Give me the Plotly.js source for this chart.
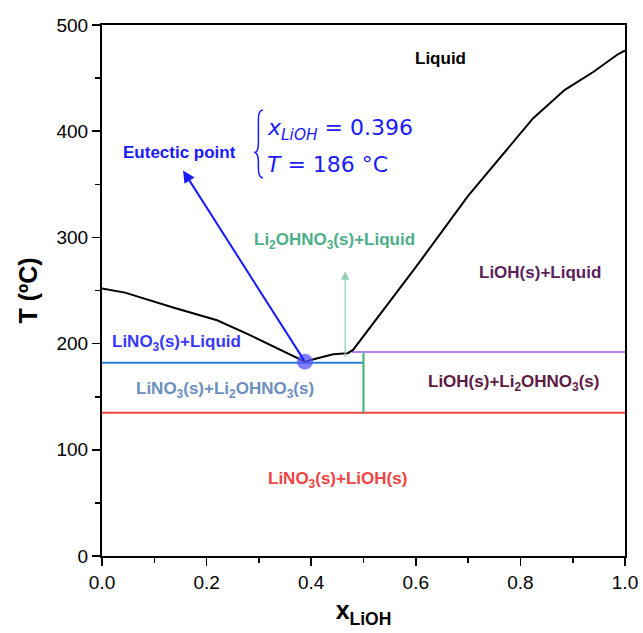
<!DOCTYPE html>
<html>
<head>
<meta charset="utf-8">
<script src="https://cdn.plot.ly/plotly-3.0.1.min.js"></script>
<style>html,body{margin:0;padding:0;background:#fff;}#chart{width:643px;height:633px;}</style>
</head>
<body>
<div id="chart"></div>
<script>
// Liquidus curve
const liqX = [0, 0.044, 0.136, 0.22, 0.283, 0.388, 0.403, 0.442, 0.47, 0.48, 0.6, 0.7, 0.824, 0.885, 0.94, 0.985, 1.0];
const liqT = [252, 248, 234, 222, 208, 183, 185, 190, 191, 194, 272, 339, 412, 439, 456, 472, 476];
// Phase boundary lines
const blueX = [0, 0.5];      const blueT = [182, 182];
const redX = [0, 1];         const redT = [135, 135];
const greenX = [0.5, 0.5];   const greenT = [135, 192];
const purpleX = [0.478, 1];  const purpleT = [192, 192];
// Eutectic point
const eutX = [0.388];        const eutT = [183];
// Region labels
const labelText = ["Liquid", "Li<sub>2</sub>OHNO<sub>3</sub>(s)+Liquid", "LiOH(s)+Liquid", "LiNO<sub>3</sub>(s)+Liquid",
  "LiNO<sub>3</sub>(s)+Li<sub>2</sub>OHNO<sub>3</sub>(s)", "LiOH(s)+Li<sub>2</sub>OHNO<sub>3</sub>(s)", "LiNO<sub>3</sub>(s)+LiOH(s)", "Eutectic point"];
const labelX = [0.648, 0.444, 0.837, 0.143, 0.235, 0.786, 0.451, 0.149];
const labelT = [468, 297, 267, 201, 156, 163, 72, 380];
const labelColor = ["#000000", "#4dae8a", "#5b1f5e", "#3838ff", "#6c8fc0", "#5d1a45", "#ef4444", "#1a1aff"];

const F = "Liberation Sans, Arial, sans-serif";

const traces = [
  {x: blueX, y: blueT, mode: "lines", line: {color: "#2a7de1", width: 2}, hoverinfo: "skip"},
  {x: redX, y: redT, mode: "lines", line: {color: "#ee4444", width: 2}, hoverinfo: "skip"},
  {x: greenX, y: greenT, mode: "lines", line: {color: "#3db36f", width: 2}, hoverinfo: "skip"},
  {x: purpleX, y: purpleT, mode: "lines", line: {color: "#b483e6", width: 2}, hoverinfo: "skip"},
  {x: liqX, y: liqT, mode: "lines", line: {color: "#000000", width: 2}, hoverinfo: "skip"},
  {x: eutX, y: eutT, mode: "markers", marker: {color: "rgba(85,85,255,0.75)", size: 16}, hoverinfo: "skip"}
];

const annotations = labelText.map((t, i) => ({
  x: labelX[i], y: labelT[i], xref: "x", yref: "y", text: "<b>" + t + "</b>",
  showarrow: false, font: {family: F, size: 17, color: labelColor[i]}
}));

// arrows
annotations.push({x: 0.155, y: 363, ax: eutX[0], ay: eutT[0], xref: "x", yref: "y", axref: "x", ayref: "y",
  text: "", showarrow: true, arrowhead: 2, arrowsize: 1.2, arrowwidth: 2, arrowcolor: "#1a1aff"});
annotations.push({x: 0.465, y: 268, ax: 0.465, ay: 186, xref: "x", yref: "y", axref: "x", ayref: "y",
  text: "", showarrow: true, arrowhead: 2, arrowsize: 1.3, arrowwidth: 1.3, arrowcolor: "#8fd0b4"});
// eutectic values
annotations.push({x: 0.312, y: 402, xref: "x", yref: "y", xanchor: "left", showarrow: false,
  text: "<i>x</i><sub><i>LiOH</i></sub> = 0.396", font: {family: "DejaVu Sans, sans-serif", size: 22, color: "#1a1aff"}});
annotations.push({x: 0.312, y: 369, xref: "x", yref: "y", xanchor: "left", showarrow: false,
  text: "<i>T</i> = 186 °C", font: {family: "DejaVu Sans, sans-serif", size: 22, color: "#1a1aff"}});

const layout = {
  width: 643, height: 633,
  margin: {l: 102, r: 18, t: 25, b: 77},
  paper_bgcolor: "#ffffff", plot_bgcolor: "#ffffff",
  showlegend: false,
  xaxis: {
    range: [0, 1], dtick: 0.2, tickformat: ".1f", ticks: "outside", ticklen: 8, tickwidth: 1.6, tickcolor: "#000",
    minor: {dtick: 0.1, ticks: "outside", ticklen: 5, tickwidth: 1.6, tickcolor: "#000"},
    showline: true, linewidth: 2, linecolor: "#000", mirror: true, showgrid: false, zeroline: false,
    tickfont: {family: F, size: 19, color: "#000"},
    title: {text: "<b>x<sub>LiOH</sub></b>", font: {family: F, size: 25, color: "#000"}, standoff: 10}
  },
  yaxis: {
    range: [0, 500], dtick: 100, ticks: "outside", ticklen: 8, tickwidth: 1.6, tickcolor: "#000",
    minor: {dtick: 50, ticks: "outside", ticklen: 5, tickwidth: 1.6, tickcolor: "#000"},
    showline: true, linewidth: 2, linecolor: "#000", mirror: true, showgrid: false, zeroline: false,
    tickfont: {family: F, size: 19, color: "#000"},
    title: {text: "<b>T (ºC)</b>", font: {family: F, size: 25, color: "#000"}, standoff: 12}
  },
  shapes: [{
    type: "path", xref: "x", yref: "y",
    path: "M 0.308,420 Q 0.299,420 0.299,411 L 0.299,389 Q 0.299,380 0.291,380 Q 0.299,380 0.299,371 L 0.299,365 Q 0.299,356 0.308,356",
    line: {color: "#1a1aff", width: 1.5}
  }],
  annotations: annotations
};

Plotly.newPlot("chart", traces, layout, {displayModeBar: false, staticPlot: true});
</script>
</body>
</html>
